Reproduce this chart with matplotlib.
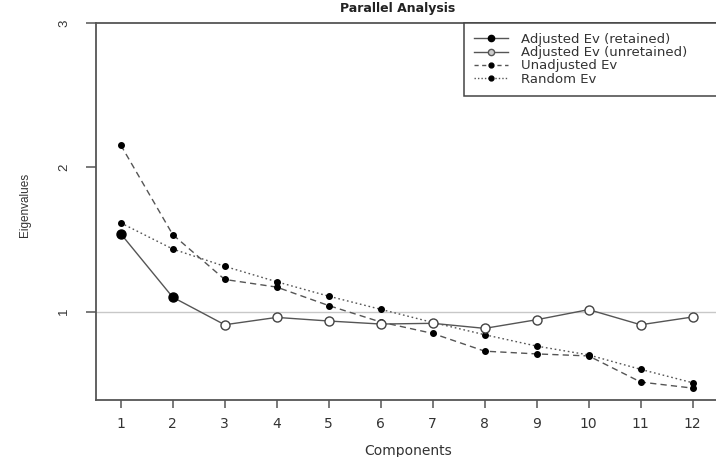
import matplotlib
matplotlib.use("Agg")
import matplotlib.pyplot as plt
from matplotlib.lines import Line2D

components = list(range(1, 13))
adjusted_ev = [1.54, 1.10, 0.909, 0.96, 0.935, 0.914, 0.919, 0.884, 0.944, 1.014, 0.909, 0.963]
unadjusted_ev = [2.155, 1.534, 1.223, 1.17, 1.042, 0.928, 0.849, 0.726, 0.707, 0.693, 0.512, 0.47]
random_ev = [1.615, 1.434, 1.314, 1.207, 1.107, 1.016, 0.925, 0.84, 0.761, 0.70, 0.60, 0.507]
retained = 2
title = "Parallel Analysis"
legend_labels = ["Adjusted Ev (retained)", "Adjusted Ev (unretained)", "Unadjusted Ev", "Random Ev"]

plt.rcParams['font.family'] = ['DejaVu Sans']

W, H = 716, 457
fig = plt.figure(figsize=(W / 100, H / 100), dpi=100)
left_px, right_px, top_px, bottom_px = 96, 724, 23.0, 399.5
ax = fig.add_axes([left_px / W, 1 - bottom_px / H, (right_px - left_px) / W, (bottom_px - top_px) / H])

x_lo = 1 - (120.7 - left_px) / 52.0
x_hi = 12 + (right_px - 692.7) / 52.0
ax.set_xlim(x_lo, x_hi)
ax.set_ylim(1 - (bottom_px - 311.7) / 144.2, 3.0)

line_col = '#555555'
ax.axhline(1, color='#c8c8c8', lw=1, zorder=1)

ax.plot(components, unadjusted_ev, ls=(0, (4.5, 3)), color=line_col, lw=1, marker='o', ms=4,
        mfc='black', mec='black', zorder=3)
ax.plot(components, random_ev, ls=(0, (1.2, 2)), color=line_col, lw=1, marker='o', ms=4,
        mfc='black', mec='black', zorder=3)
ax.plot(components, adjusted_ev, ls='-', color=line_col, lw=1, zorder=4)
ax.plot(components[:retained], adjusted_ev[:retained], ls='none', marker='o', ms=6.5,
        mfc='black', mec='black', zorder=5)
ax.plot(components[retained:], adjusted_ev[retained:], ls='none', marker='o', ms=6.5,
        mfc='white', mec='#444444', mew=1, zorder=5)

ax.set_xticks(components)
ax.set_yticks([1, 2, 3])
for s in ax.spines.values():
    s.set_visible(True)
    s.set_color('#555555')
    s.set_linewidth(1.3)
ax.tick_params(axis='x', length=5.5, width=1.1, color='#555555', pad=7, labelsize=10, labelcolor='#333333')
ax.tick_params(axis='y', length=7.5, width=1.1, color='#555555', pad=11, labelcolor='#333333')
for lab in ax.get_yticklabels():
    lab.set_rotation(90)
    lab.set_va('center')
    lab.set_fontfamily('Liberation Sans')
    lab.set_fontsize(9.5)

fig.text(25 / W, 1 - 205 / H, "Eigenvalues", rotation=90, ha='center', va='center', fontsize=8.5,
         family='Liberation Sans', color='#333333')
fig.text(408 / W, 1 - 451.5 / H, "Components", ha='center', va='center', fontsize=10, color='#333333')
fig.text(398 / W, 1 - 2 / H, title, ha='center', va='top', fontsize=9, fontweight='bold', color='#222222')

handles = [
    Line2D([], [], color=line_col, lw=1, ls='-', marker='o', ms=4.5, mfc='black', mec='black'),
    Line2D([], [], color=line_col, lw=1, ls='-', marker='o', ms=4.5, mfc='#cccccc', mec='#555555'),
    Line2D([], [], color=line_col, lw=1, ls=(0, (3, 2.5)), marker='o', ms=3.5, mfc='black', mec='black'),
    Line2D([], [], color=line_col, lw=1, ls=(0, (1, 1.5)), marker='o', ms=3.5, mfc='black', mec='black'),
]
axw = right_px - left_px
bx = (464 - left_px) / axw
bw = (740 - 464) / axw
leg = ax.legend(handles, legend_labels, loc='upper left', bbox_to_anchor=(bx, 0.5, bw, 0.5),
                mode='expand', fontsize=9.5,
                frameon=True, fancybox=False, edgecolor='#444444', framealpha=1,
                handlelength=2.6, handletextpad=0.95, labelspacing=0.02, borderpad=0.75,
                borderaxespad=0, labelcolor='#333333')
leg.get_frame().set_linewidth(1.1)

fig.savefig("out.png", dpi=100)
